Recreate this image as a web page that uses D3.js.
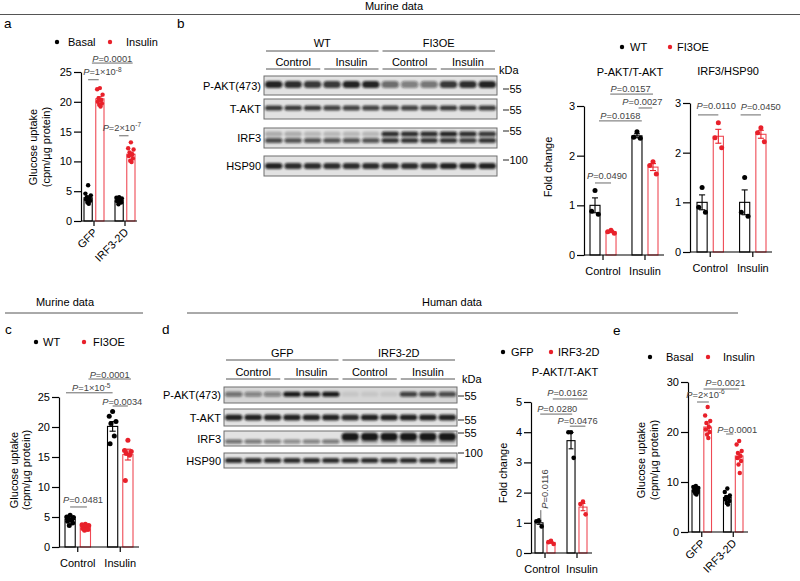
<!DOCTYPE html>
<html><head><meta charset="utf-8">
<script src="https://cdn.jsdelivr.net/npm/d3@7"></script>
<style>
body{margin:0;background:#fff}
svg{display:block;font-family:"Liberation Sans",Arial,Helvetica,sans-serif}
</style></head><body>
<svg id="fig" width="800" height="581"></svg>
<script>
// ================= DATA =================
// Panel a
const aGroups = ["GFP","IRF3-2D"];
const aSeries = ["Basal","Insulin"];
const aTicks = [0,5,10,15,20,25];
const aMeans = [[3.9,20.5],[3.5,11.2]];
const aSem = [[0.3,0.35],[0.15,0.35]];
const aPoints = [
  [[6.0,4.6,4.3,4.0,3.8,3.6,3.4,3.1,2.9],[22.3,22.1,21.2,20.6,20.3,20.0,19.7,19.5,19.2]],
  [[4.0,3.9,3.8,3.6,3.5,3.3,3.1,2.8],[13.2,12.2,12.0,11.5,11.2,10.9,10.5,10.1,9.9]]
];
const aSig = [
  {p:"1×10^-8", from:[0,0], to:[0,0.9], at:23.7},
  {p:"0.0001", from:[0,0.32], to:[1,1.15], at:26.5},
  {p:"2×10^-7", from:[1,0], to:[1,0.8], at:14.3}
];
const aYLabel = ["Glucose uptake","(cpm/µg protein)"];

// Panel b blot
const bTop = ["WT","FI3OE"];
const bTreat = ["Control","Insulin","Control","Insulin"];
const bRowNames = ["P-AKT(473)","T-AKT","IRF3","HSP90"];
const bPakt = [0.95,0.9,0.85, 0.85,0.95,0.95, 0.6,0.5,0.55, 0.85,0.9,0.95];
const bTakt = [0.85,0.85,0.85, 0.8,0.8,0.8, 0.8,0.8,0.8, 0.85,0.85,0.85];
const bIrf3Upper = [0.25,0.25,0.2, 0.2,0.2,0.2, 0.9,0.9,0.9, 0.95,0.9,0.85];
const bIrf3Lower = [0.75,0.7,0.7, 0.7,0.7,0.7, 0.85,0.85,0.85, 0.85,0.8,0.85];
const bHsp90 = [0.95,0.9,0.9, 0.9,0.9,0.9, 0.9,0.9,0.9, 0.95,0.95,0.95];
const bKda = ["55","55","55","100"];

// Panel b charts
const bLegend = ["WT","FI3OE"];
const bGroups = ["Control","Insulin"];
const b1Title = "P-AKT/T-AKT";
const b1Ticks = [0,1,2,3];
const b1Means = [[1.0,0.47],[2.4,1.77]];
const b1Sem = [[0.15,0.02],[0.04,0.07]];
const b1Points = [[[1.3,0.88,0.82],[0.5,0.47,0.44]],[[2.48,2.37,2.35],[1.88,1.8,1.63]]];
const b1Sig = [
  {p:"0.0490", from:[0,0], to:[0,1], at:1.45},
  {p:"0.0168", from:[0,0.25], to:[1,0.3], at:2.70},
  {p:"0.0027", from:[1,0.1], to:[1,0.95], at:2.96},
  {p:"0.0157", from:[0,0.95], to:[1,1], at:3.24}
];
const b2Title = "IRF3/HSP90";
const b2Ticks = [0,1,2,3];
const b2Means = [[1.0,2.33],[1.0,2.37]];
const b2Sem = [[0.15,0.14],[0.25,0.08]];
const b2Points = [[[1.3,0.9,0.8],[2.6,2.3,2.1]],[[1.5,0.8,0.72],[2.5,2.4,2.22]]];
const b2Sig = [
  {p:"0.0110", from:[0,-0.25], to:[0,1], at:2.76},
  {p:"0.0450", from:[1,-0.25], to:[1,1], at:2.76}
];
const foldLabel = ["Fold change"];

// Panel c
const cGroups = ["Control","Insulin"];
const cSeries = ["WT","FI3OE"];
const cTicks = [0,5,10,15,20,25];
const cMeans = [[4.6,3.5],[20.1,15.4]];
const cSem = [[0.2,0.13],[0.8,0.9]];
const cPoints = [
  [[5.3,5.0,4.9,4.7,4.5,4.3,4.0,3.6],[3.8,3.7,3.6,3.5,3.3,3.1,2.9,2.8]],
  [[22.6,21.8,20.9,20.6,18.5,17.2],[17.8,16.1,15.9,15.6,15.3,11.1]]
];
const cSig = [
  {p:"0.0481", from:[0,0], to:[0,1.1], at:6.67},
  {p:"0.0001", from:[0,1.2], to:[1,1.2], at:28},
  {p:"1×10^-5", from:[0,-0.27], to:[1,0], at:25.7},
  {p:"0.0034", from:[1,0], to:[1,1], at:23.5}
];

// Panel d blot
const dTop = ["GFP","IRF3-2D"];
const dTreat = ["Control","Insulin","Control","Insulin"];
const dPakt = [0.55,0.45,0.45, 1,1,1, 0.08,0.08,0.08, 0.8,0.8,0.75];
const dTakt = [0.95,0.95,0.95, 0.95,0.95,0.95, 0.9,0.95,0.95, 0.95,0.95,0.95];
const dIrf3Upper = [0,0,0, 0,0,0, 1,1,1, 1,1,1];
const dIrf3Lower = [0.6,0.55,0.5, 0.45,0.5,0.55, 0.25,0.25,0.25, 0.25,0.25,0.25];
const dHsp90 = [0.9,0.9,0.9, 0.9,0.9,0.9, 0.9,0.9,0.9, 0.9,0.9,0.9];
const dKda = ["55","55","55","100"];

// Panel d chart
const dLegend = ["GFP","IRF3-2D"];
const dTitle = "P-AKT/T-AKT";
const dTicks = [0,1,2,3,4,5];
const dMeans = [[1.0,0.35],[3.72,1.52]];
const dSem = [[0.05,0.03],[0.27,0.12]];
const dPoints = [[[1.08,1.05,0.88],[0.4,0.36,0.3]],[[4.0,4.0,3.15],[1.7,1.62,1.28]]];
const dSig = [
  {p:"0.0162", from:[0,1.15], to:[1,1.4], at:5.1},
  {p:"0.0280", from:[0,0.1], to:[1,0.1], at:4.6},
  {p:"0.0476", from:[1,-0.1], to:[1,1.2], at:4.2}
];
const dSigVert = {p:"0.0116", g:0, s:0.15, from:1.09, to:1.42, textAt:2.12};

// Panel e
const eGroups = ["GFP","IRF3-2D"];
const eSeries = ["Basal","Insulin"];
const eTicks = [0,10,20,30];
const eMeans = [[8.4,21.0],[6.9,15.2]];
const eSem = [[0.2,0.6],[0.35,0.6]];
const ePoints = [
  [[9.2,9.0,8.8,8.6,8.4,8.2,8.0,7.7,7.5],[25.0,23.3,22.2,21.8,21.0,20.5,20.0,19.5,18.8]],
  [[8.7,8.0,7.3,7.0,6.8,6.5,6.2,5.8,5.5],[18.2,17.5,16.2,15.8,15.2,14.8,14.2,13.5,11.8]]
];
const eSig = [
  {p:"2×10^-6", from:[0,0.1], to:[0,1.1], at:26},
  {p:"0.0021", from:[0,0.65], to:[1,1], at:28.6},
  {p:"0.0001", from:[1,-0.1], to:[1,0.5], at:19.6}
];

const headers = ["Murine data","Murine data","Human data"];
const panelLetters = ["a","b","c","d","e"];

// ================= DRAWING =================
const svg = d3.select("#fig");
const RED = "#e8202a", RED_BAR = "#ef4a55", SIG_TXT = "#444", SIG_LINE = "#6a6a6a";
const jitter = [0,-1,1,-0.5,0.5,-0.75,0.75,-0.25,0.25,0];

svg.append("defs").append("filter").attr("id","blur").attr("x","-20%").attr("y","-50%").attr("width","140%").attr("height","200%")
  .append("feGaussianBlur").attr("stdDeviation",0.8);

function sigLabel(t, p){
  t.append("tspan").attr("font-style","italic").text("P");
  const parts = p.split("^");
  t.append("tspan").text("=" + parts[0]);
  if (parts[1]) t.append("tspan").attr("dy",-3.5).attr("font-size",6.5).text(parts[1]);
}

function drawChart(D, L){
  const g = svg.append("g");
  const y = d3.scaleLinear().domain([0, D.ticks[D.ticks.length-1]]).range([L.y0, L.yTop]);
  const x0 = d3.scaleBand().domain(D.groups).range(L.barRange).paddingInner(L.gpad).paddingOuter(0);
  const x1 = d3.scaleBand().domain(D.series).range([0, x0.bandwidth()]).paddingInner(L.spad).paddingOuter(0);
  const cols = ["#000", RED], strokes = ["#000", RED_BAR];
  const cells = [];
  D.groups.forEach((gn,gi)=>D.series.forEach((sn,si)=>cells.push({gi,si,gn,sn,mean:D.means[gi][si],sem:D.sem[gi][si],pts:D.points[gi][si]})));
  const cx = c => x0(c.gn) + x1(c.sn) + x1.bandwidth()/2;
  g.selectAll("rect.bar").data(cells).join("rect").attr("class","bar")
    .attr("x", c=>x0(c.gn)+x1(c.sn)).attr("width", x1.bandwidth())
    .attr("y", c=>y(c.mean)).attr("height", c=>L.y0 - y(c.mean))
    .attr("fill","#fff").attr("stroke", c=>strokes[c.si]).attr("stroke-width",1.1);
  cells.forEach(c=>{
    g.append("g").selectAll("circle").data(c.pts).join("circle")
      .attr("cx",(v,i)=>cx(c) + jitter[i%jitter.length]*x1.bandwidth()*0.33)
      .attr("cy", v=>y(v)).attr("r", L.r).attr("fill", cols[c.si]);
  });
  cells.forEach(c=>{
    const x = cx(c), w = x1.bandwidth()*0.3;
    const eg = g.append("g").attr("stroke", cols[c.si]).attr("stroke-width",1.1);
    eg.append("line").attr("x1",x).attr("x2",x).attr("y1",y(c.mean-c.sem)).attr("y2",y(c.mean+c.sem));
    eg.append("line").attr("x1",x-w).attr("x2",x+w).attr("y1",y(c.mean+c.sem)).attr("y2",y(c.mean+c.sem));
    eg.append("line").attr("x1",x-w).attr("x2",x+w).attr("y1",y(c.mean-c.sem)).attr("y2",y(c.mean-c.sem));
  });
  // y axis
  const ya = g.append("g").attr("transform",`translate(${L.axisX},0)`)
    .call(d3.axisLeft(y).tickValues(D.ticks).tickSize(7).tickSizeOuter(0).tickPadding(2).tickFormat(d3.format("d")));
  ya.attr("font-family",null).attr("font-size",11);
  ya.selectAll("line,path").attr("stroke","#000").attr("stroke-width",1.2);
  ya.selectAll("text").attr("fill","#000");
  // x axis
  const xa = g.append("g").attr("transform",`translate(0,${L.y0})`)
    .call(d3.axisBottom(x0).tickSize(5).tickSizeOuter(0));
  xa.select(".domain").remove();
  xa.attr("font-family",null).attr("font-size",11);
  xa.selectAll("line").attr("stroke","#000").attr("stroke-width",1.2);
  xa.selectAll("text").attr("fill","#000");
  if (L.rotate) {
    xa.selectAll("text").attr("y",0).attr("dy",0).attr("text-anchor","end")
      .attr("transform","translate(4,12) rotate(-45)");
  } else {
    const ld = L.labelDx || [0,0];
    xa.selectAll("text").attr("y",20).attr("dy",0).attr("x",(d,i)=>ld[i]);
  }
  g.append("line").attr("x1",L.axisX).attr("x2",L.xEnd).attr("y1",L.y0).attr("y2",L.y0)
    .attr("stroke","#000").attr("stroke-width",1.2);
  // significance
  const pos = (gi,s)=>{ const a = x0(D.groups[gi]) + x1(D.series[0]) + x1.bandwidth()/2;
    const b = x0(D.groups[gi]) + x1(D.series[1]) + x1.bandwidth()/2; return a + s*(b-a); };
  D.sig.forEach((s,i)=>{
    const n = L.nudge[i], xA = pos(s.from[0],s.from[1]), xB = pos(s.to[0],s.to[1]), yy = y(s.at);
    g.append("line").attr("x1",xA).attr("x2",xB).attr("y1",yy).attr("y2",yy).attr("stroke",SIG_LINE).attr("stroke-width",1);
    const t = g.append("text").attr("x",(xA+xB)/2+n[0]).attr("y",yy-2+n[1]).attr("text-anchor","middle")
      .attr("font-size",9.3).attr("fill",SIG_TXT);
    sigLabel(t, s.p);
  });
  if (D.vert){
    const v = D.vert, xv = pos(v.g, v.s);
    g.append("line").attr("x1",xv).attr("x2",xv).attr("y1",y(v.from)).attr("y2",y(v.to)).attr("stroke",SIG_LINE).attr("stroke-width",1);
    const t = g.append("text").attr("transform",`translate(${xv+7},${y(v.textAt)}) rotate(-90)`)
      .attr("text-anchor","middle").attr("font-size",9.3).attr("fill",SIG_TXT);
    sigLabel(t, v.p);
  }
  // y label
  if (D.ylabel) D.ylabel.forEach((lab,i)=>{
    g.append("text").attr("transform",`translate(${L.ylabX[i]},${L.ylabY}) rotate(-90)`)
      .attr("text-anchor","middle").attr("font-size",11).text(lab);
  });
  if (D.title) g.append("text").attr("x",L.titleX).attr("y",L.titleY).attr("text-anchor","middle").attr("font-size",11).text(D.title);
}

function drawLegend(labels, L){
  const g = svg.append("g").attr("font-size",11);
  labels.forEach((lab,i)=>{
    g.append("circle").attr("cx",L.dots[i]).attr("cy",L.y).attr("r",2.2).attr("fill", i ? RED : "#000");
    g.append("text").attr("x",L.texts[i]).attr("y",L.y+4).text(lab);
  });
}

function drawBlot(B, L){
  const g = svg.append("g").attr("font-size",11);
  const lane = d3.scaleBand().domain(d3.range(12)).range(L.x).paddingInner(0);
  const op = d3.scaleLinear().domain([0,1]).range([0,0.95]);
  const span = (a,b)=>[lane(a)+L.inset, lane(b)+lane.bandwidth()-L.inset];
  B.top.forEach((t,i)=>{
    const [a,b] = span(i*6, i*6+5);
    g.append("line").attr("x1",a).attr("x2",b).attr("y1",L.topLineY).attr("y2",L.topLineY).attr("stroke","#555").attr("stroke-width",1);
    g.append("text").attr("x",(a+b)/2).attr("y",L.topTextY).attr("text-anchor","middle").text(t);
  });
  B.treat.forEach((t,i)=>{
    const [a,b] = span(i*3, i*3+2);
    g.append("line").attr("x1",a).attr("x2",b).attr("y1",L.subLineY).attr("y2",L.subLineY).attr("stroke","#555").attr("stroke-width",1);
    g.append("text").attr("x",(a+b)/2).attr("y",L.subTextY).attr("text-anchor","middle").text(t);
  });
  B.rows.forEach((row,ri)=>{
    const R = L.rows[ri];
    g.append("rect").attr("x",L.x[0]).attr("y",R.y).attr("width",L.x[1]-L.x[0]).attr("height",R.h)
      .attr("fill",R.bg || "#e2e2e2").attr("stroke","#6e6e6e").attr("stroke-width",1);
    g.append("text").attr("x",L.x[0]-3).attr("y",R.y+R.h/2+4).attr("text-anchor","end").text(row.name);
    const bg = g.append("g").attr("filter","url(#blur)");
    row.layers.forEach((vals,li)=>{
      const ly = R.layers[li];
      bg.selectAll(null).data(vals).join("rect")
        .attr("x",(v,k)=>lane(k)+lane.bandwidth()*0.05).attr("width",lane.bandwidth()*0.9)
        .attr("y",R.y + R.h*ly.f - ly.t/2).attr("height",ly.t).attr("rx",ly.t/2)
        .attr("fill","#111").attr("opacity",v=>op(v));
    });
    g.append("line").attr("x1",L.kdaX).attr("x2",L.kdaX+6).attr("y1",L.kdaY[ri]).attr("y2",L.kdaY[ri]).attr("stroke","#222").attr("stroke-width",1);
    g.append("text").attr("x",L.kdaX+6.5).attr("y",L.kdaY[ri]+4).text(B.kda[ri]);
  });
  g.append("text").attr("x",L.kdaTextX).attr("y",L.kdaTextY).text("kDa");
}

// ---- headers ----
const hdr = svg.append("g").attr("font-size",11);
const hdrLayout = [{x:394,y:10,l:[0,800],ly:14.5},{x:65,y:306,l:[5,143],ly:313},{x:452,y:306,l:[187,738],ly:313}];
headers.forEach((h,i)=>{
  const H = hdrLayout[i];
  hdr.append("text").attr("x",H.x).attr("y",H.y).attr("text-anchor","middle").text(h);
  hdr.append("line").attr("x1",H.l[0]).attr("x2",H.l[1]).attr("y1",H.ly).attr("y2",H.ly).attr("stroke","#555").attr("stroke-width",1);
});
const letterPos = [[4,28],[177,28],[5,334],[162,334],[613,335]];
panelLetters.forEach((p,i)=>svg.append("text").attr("x",letterPos[i][0]).attr("y",letterPos[i][1]).attr("font-size",13.5).text(p));

// ---- panel a ----
drawLegend(aSeries,{dots:[57,110],texts:[68,126],y:42});
drawChart({groups:aGroups,series:aSeries,ticks:aTicks,means:aMeans,sem:aSem,points:aPoints,sig:aSig,ylabel:aYLabel},
  {axisX:81,xEnd:137,barRange:[84,135],gpad:0.355,spad:0.3,y0:221,yTop:72,r:2.2,rotate:true,
   nudge:[[9,-2.5],[0,1],[-2,-3]],ylabX:[37,50],ylabY:147});

// ---- panel b blot ----
drawBlot({top:bTop,treat:bTreat,kda:bKda,rows:[
  {name:bRowNames[0],layers:[bPakt]},{name:bRowNames[1],layers:[bTakt]},
  {name:bRowNames[2],layers:[bIrf3Upper,bIrf3Lower]},{name:bRowNames[3],layers:[bHsp90]}]},
  {x:[264,497],inset:2,topLineY:51,topTextY:47,subLineY:69,subTextY:66,
   rows:[{y:76,h:19,layers:[{f:0.45,t:7}]},{y:99,h:20,layers:[{f:0.45,t:5}]},
         {y:128,h:20,layers:[{f:0.3,t:5},{f:0.62,t:5}]},{y:156,h:20,layers:[{f:0.5,t:6}]}],
   kdaX:503,kdaY:[89,110,131,160],kdaTextX:499,kdaTextY:74});

// ---- panel b charts ----
drawLegend(bLegend,{dots:[622,670],texts:[630,677],y:47});
drawChart({groups:bGroups,series:bLegend,ticks:b1Ticks,means:b1Means,sem:b1Sem,points:b1Points,sig:b1Sig,ylabel:foldLabel,title:b1Title},
  {axisX:584,xEnd:664,barRange:[590,658],gpad:0.38,spad:0.375,y0:255,yTop:106,r:2.5,
   nudge:[[4,-1.5],[0,0.5],[-3,-0.5],[-1,-0.5]],ylabX:[552],ylabY:167,titleX:630,titleY:76});
drawChart({groups:bGroups,series:bLegend,ticks:b2Ticks,means:b2Means,sem:b2Sem,points:b2Points,sig:b2Sig,title:b2Title},
  {axisX:690,xEnd:772,barRange:[697,766],gpad:0.38,spad:0.375,y0:252,yTop:103,r:2.5,
   nudge:[[8,-3.5],[10,-2.5]],titleX:728,titleY:75});

// ---- panel c ----
drawLegend(cSeries,{dots:[36,84],texts:[43,93],y:342});
drawChart({groups:cGroups,series:cSeries,ticks:cTicks,means:cMeans,sem:cSem,points:cPoints,sig:cSig,ylabel:aYLabel},
  {axisX:59,xEnd:139,barRange:[65,133],gpad:0.4,spad:0.33,y0:547,yTop:397,r:2.5,
   nudge:[[4.5,-1.5],[0,0.5],[2,0.5],[2,0.5]],ylabX:[17.5,30],ylabY:470});

// ---- panel d blot ----
drawBlot({top:dTop,treat:dTreat,kda:dKda,rows:[
  {name:bRowNames[0],layers:[dPakt]},{name:bRowNames[1],layers:[dTakt]},
  {name:bRowNames[2],layers:[dIrf3Upper,dIrf3Lower]},{name:bRowNames[3],layers:[dHsp90]}]},
  {x:[224,457],inset:2,topLineY:360,topTextY:357,subLineY:379,subTextY:376,
   rows:[{y:387,h:16,layers:[{f:0.45,t:5}],bg:"#d6d6d6"},{y:409,h:17,layers:[{f:0.5,t:6}]},
         {y:431,h:15,layers:[{f:0.38,t:8},{f:0.7,t:4}]},{y:453,h:15,layers:[{f:0.5,t:5}]}],
   kdaX:458,kdaY:[396,420,433,453],kdaTextX:462,kdaTextY:383});

// ---- panel d chart ----
drawLegend(dLegend,{dots:[503,551],texts:[511,558],y:352});
drawChart({groups:bGroups,series:dLegend,ticks:dTicks,means:dMeans,sem:dSem,points:dPoints,sig:dSig,vert:dSigVert,ylabel:foldLabel,title:dTitle},
  {axisX:531,xEnd:592,barRange:[535,587],gpad:0.375,spad:0.33,y0:553,yTop:402,r:2.3,labelDx:[-3,5],
   nudge:[[-3,-0.5],[1,-0.5],[0,-0.5]],ylabX:[507],ylabY:473,titleX:565,titleY:376});

// ---- panel e ----
drawLegend(eSeries,{dots:[650,708],texts:[666,723],y:357});
drawChart({groups:eGroups,series:eSeries,ticks:eTicks,means:eMeans,sem:eSem,points:ePoints,sig:eSig,ylabel:aYLabel},
  {axisX:688,xEnd:748,barRange:[692,743],gpad:0.38,spad:0.35,y0:532,yTop:382,r:2.2,rotate:true,
   nudge:[[2.5,-2.5],[4,-1.5],[7.5,0.5]],ylabX:[645,658],ylabY:460});
</script>
</body></html>
